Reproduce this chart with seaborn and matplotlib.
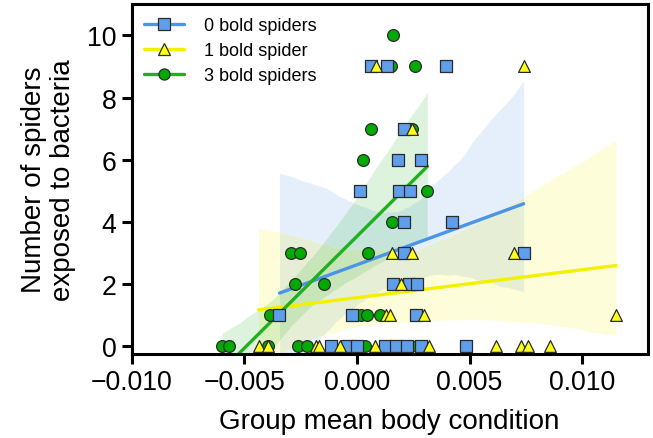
# group body condition vs. number of spiders exposed, by bold-spider treatment

import matplotlib
matplotlib.use("Agg")
import numpy as np
import pandas as pd
import matplotlib.pyplot as plt
from matplotlib.lines import Line2D
import seaborn as sns

sns.set_style("ticks")
plt.rcParams["font.family"] = ["Liberation Sans", "DejaVu Sans"]
plt.rcParams["text.color"] = "black"
plt.rcParams["axes.labelcolor"] = "black"
plt.rcParams["xtick.color"] = "black"
plt.rcParams["ytick.color"] = "black"

# values (x in body-condition units)
x_bold0 = [-0.00115, -0.00044, 0.0, 0.00124, 0.00173, 0.00224, 0.00283, 0.00482,
           -0.00344, -0.00024, 0.00261,
           0.00158, 0.00232, 0.00268,
           0.00210, 0.00740,
           0.00207, 0.00423,
           0.00013, 0.00187, 0.00236,
           0.00183, 0.00283,
           0.00207,
           0.00062, 0.00133, 0.00394]
y_bold0 = [0, 0, 0, 0, 0, 0, 0, 0,
           1, 1, 1,
           2, 2, 2,
           3, 3,
           4, 4,
           5, 5, 5,
           6, 6,
           7,
           9, 9, 9]

x_bold1 = [-0.00437, -0.00395, -0.00181, -0.00167, -0.00074, 0.00080, 0.00320,
           0.00615, 0.00726, 0.00758, 0.00856,
           0.00128, 0.00147, 0.00298, 0.01150,
           0.00195,
           0.00154, 0.00246, 0.00699,
           0.00246,
           0.00084, 0.00740]
y_bold1 = [0, 0, 0, 0, 0, 0, 0,
           0, 0, 0, 0,
           1, 1, 1, 1,
           2,
           3, 3, 3,
           7,
           9, 9]

x_bold3 = [-0.00599, -0.00569, -0.00395, -0.00262, -0.00221, 0.00035, 0.00268,
           -0.00388, 0.00020, 0.00044, 0.00103,
           -0.00277, -0.00145,
           -0.00295, -0.00255, 0.00047,
           0.00155,
           0.00313,
           0.00025,
           0.00062, 0.00245,
           0.00150, 0.00258,
           0.00158]
y_bold3 = [0, 0, 0, 0, 0, 0, 0,
           1, 1, 1, 1,
           2, 2,
           3, 3, 3,
           4,
           5,
           6,
           7, 7,
           9, 9,
           10]

groups = ["0 bold spiders", "1 bold spider", "3 bold spiders"]

df = pd.concat([
    pd.DataFrame({"x": x_bold0, "y": y_bold0, "group": groups[0]}),
    pd.DataFrame({"x": x_bold1, "y": y_bold1, "group": groups[1]}),
    pd.DataFrame({"x": x_bold3, "y": y_bold3, "group": groups[2]}),
])

line_colors = {groups[0]: "#4C95E6", groups[1]: "#F2F200", groups[2]: "#1FAF1F"}
face_colors = {groups[0]: "#5E9EEA", groups[1]: "#FFFF1A", groups[2]: "#00AA00"}
markers = {groups[0]: "s", groups[1]: "^", groups[2]: "o"}
sizes = {groups[0]: 64, groups[1]: 72, groups[2]: 72}

fig = plt.figure(figsize=(6.53, 4.39), dpi=100)
ax = fig.add_axes([0.2017, 0.191, 0.790, 0.797])

for g in groups:
    sub = df[df["group"] == g]
    sns.regplot(data=sub, x="x", y="y", ax=ax, scatter=False, ci=95, seed=1,
                color=line_colors[g], truncate=True,
                line_kws={"lw": 2.4, "zorder": 2})

# scatter drawn after the fits so markers sit on top
for g in [groups[2], groups[0], groups[1]]:
    sub = df[df["group"] == g]
    ax.scatter(sub["x"], sub["y"], marker=markers[g], s=sizes[g],
               facecolor=face_colors[g], edgecolor="#2b2b2b", linewidth=0.9,
               zorder=3, clip_on=False)

ax.set_xlim(-0.010, 0.0129)
ax.set_ylim(-0.25, 11)
ax.set_xticks([-0.010, -0.005, 0.0, 0.005, 0.010])
ax.set_xticklabels(["\u22120.010", "\u22120.005", "0.000", "0.005", "0.010"])
ax.set_yticks([0, 2, 4, 6, 8, 10])

for side in ["left", "right", "top", "bottom"]:
    ax.spines[side].set_visible(True)
    ax.spines[side].set_linewidth(2.2)
    ax.spines[side].set_color("black")
ax.tick_params(axis="both", which="major", labelsize=19.2, width=2.2,
               length=7, direction="out", color="black", labelcolor="black",
               pad=4)

ax.set_xlabel("Group mean body condition", fontsize=20, labelpad=9)
ax.set_ylabel("Number of spiders\nexposed to bacteria", fontsize=20,
              labelpad=8, linespacing=1.15)

handles = [
    Line2D([0], [0], color=line_colors[g], lw=2.4, marker=markers[g],
           markersize=8, markerfacecolor=face_colors[g],
           markeredgecolor="#2b2b2b", markeredgewidth=0.9)
    for g in groups
]
ax.legend(handles, groups, loc="upper left", frameon=False, fontsize=13,
          handlelength=2.2, handletextpad=1.1, labelspacing=0.45,
          borderaxespad=0.3, bbox_to_anchor=(0.0, 1.0), labelcolor="black")

fig.savefig("out.png", dpi=100)
